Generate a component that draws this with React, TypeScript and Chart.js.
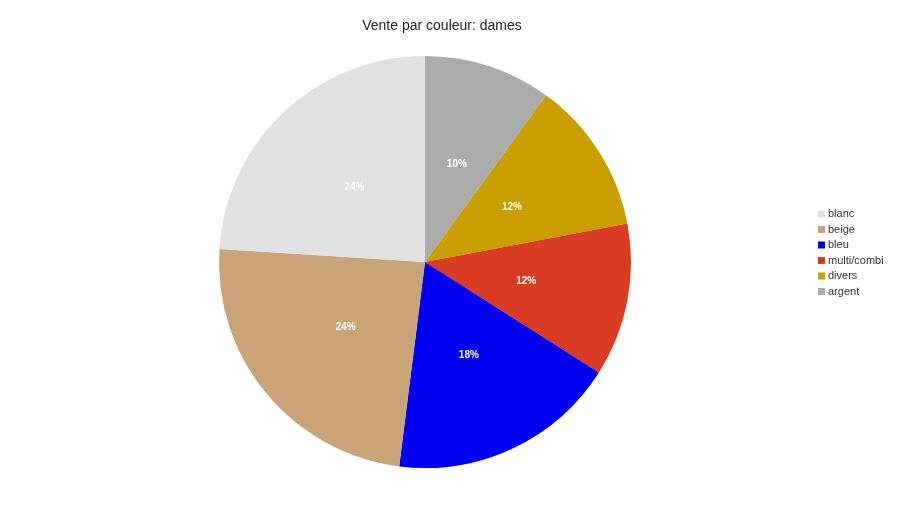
import { useEffect, useRef } from "react";
import { Chart, registerables } from "chart.js";

Chart.register(...registerables);

// legend order (top to bottom)
const categories = ["blanc", "beige", "bleu", "multi/combi", "divers", "argent"];
const shares = [24, 24, 18, 12, 12, 10];
const colors = ["#e1e1e1", "#c9a479", "#0000f0", "#d93b23", "#c99e00", "#ababab"];
const title = "Vente par couleur: dames";

// the pie runs clockwise from argent, so the dataset is the legend reversed
const pieLabels = [...categories].reverse();
const pieValues = [...shares].reverse();
const pieColors = [...colors].reverse();

const overlay = {
  id: "overlay",
  afterDatasetsDraw(chart: Chart) {
    const ctx = chart.ctx;
    const meta = chart.getDatasetMeta(0);
    const values = chart.data.datasets[0].data as number[];
    const total = values.reduce((a, b) => a + b, 0);

    ctx.save();
    // percent labels in the slices
    ctx.font = "bold 10px 'Liberation Sans', Arial, sans-serif";
    ctx.fillStyle = "#ffffff";
    ctx.textAlign = "center";
    ctx.textBaseline = "middle";
    meta.data.forEach((arc: any, i: number) => {
      const p = arc.getCenterPoint();
      ctx.fillText(Math.round((values[i] / total) * 100) + "%", p.x, p.y);
    });

    // title
    ctx.font = "14px 'Liberation Sans', Arial, sans-serif";
    ctx.fillStyle = "#222222";
    ctx.fillText(title, 442, 26);

    // legend
    ctx.font = "11px 'Liberation Sans', Arial, sans-serif";
    ctx.textAlign = "left";
    categories.forEach((c, i) => {
      const y = 214 + i * 15.5;
      ctx.fillStyle = colors[i];
      ctx.fillRect(818, y - 3.5, 7, 7);
      ctx.fillStyle = "#333333";
      ctx.fillText(c, 828, y);
    });
    ctx.restore();
  },
};

export default function App() {
  const chartRef = useRef<HTMLCanvasElement | null>(null);

  useEffect(() => {
    if (!chartRef.current) return;
    const chart = new Chart(chartRef.current, {
      type: "pie",
      data: {
        labels: pieLabels,
        datasets: [
          {
            data: pieValues,
            backgroundColor: pieColors,
            borderWidth: 0,
          },
        ],
      },
      options: {
        animation: false,
        responsive: true,
        maintainAspectRatio: false,
        layout: { padding: { top: 56, bottom: 39, left: 0, right: 50 } },
        plugins: {
          legend: { display: false },
          title: { display: false },
          tooltip: { enabled: false },
        },
      },
      plugins: [overlay],
    });
    return () => chart.destroy();
  }, []);

  return (
    <div style={{ position: "fixed", left: 0, top: 0, width: 900, height: 507, background: "#fff" }}>
      <canvas ref={chartRef}></canvas>
    </div>
  );
}
